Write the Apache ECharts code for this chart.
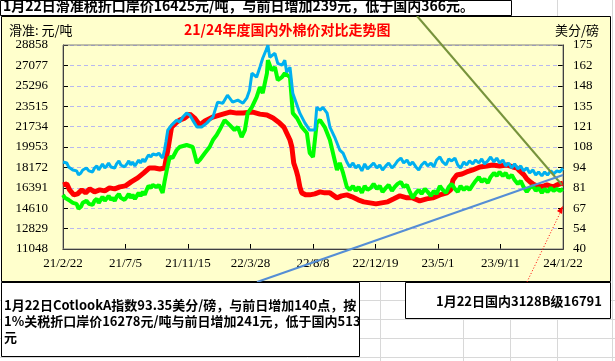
<!DOCTYPE html>
<html><head><meta charset="utf-8">
<script src="https://cdn.jsdelivr.net/npm/echarts@6/dist/echarts.min.js"></script>
<style>html,body{margin:0;padding:0;background:#fff}#c{width:615px;height:361px}</style>
</head><body><div id="c"></div>
<script>
const xLabels = ['21/2/22','21/7/5','21/11/15','22/3/28','22/8/8','22/12/19','23/5/1','23/9/11','24/1/22'];
const leftMin = 11048, leftStep = 1781, rightMin = 40, rightStep = 13.5;

// 国内3128B (元/吨), days since 2021-02-22
const redDays = [0,8,14,23,31,40,48,57,67,78,89,99,110,121,133,145,159,172,184,195,206,216,223,231,240,248,259,270,280,291,302,319,333,355,370,383,404,419,434,447,461,470,476,483,487,491,496,500,504,508,517,525,536,547,557,568,583,593,604,615,628,640,653,666,678,691,704,717,732,744,759,774,787,802,817,825,830,838,849,859,872,887,902,914,929,944,957,966,972,981,987,994,1000,1009,1015,1024,1030,1036,1043,1051,1058,1064];
const redValues = [16645,16732,16209,15774,15861,16209,15948,16296,16035,16209,16122,16383,16296,16470,16557,16906,17254,17689,18124,18124,18037,18124,19691,21694,22042,22303,22477,22825,22477,21868,22216,22564,22738,23000,22912,22912,23000,22825,22738,22477,22042,21694,21171,20562,19952,18559,17950,17341,16470,15948,15774,15774,15861,16035,15948,15948,15513,15687,15774,15600,15338,15164,15077,14990,15077,15164,15425,15687,15513,15513,15251,15425,15513,15774,15948,16209,17079,17515,17602,17776,17950,18211,18298,18385,18298,18385,18211,18124,17863,17515,17167,16906,16732,16557,16470,16557,16644,16557,16470,16644,16732,16791];

// 进口棉折口岸价 (元/吨)
const greenDays = [0,4,8,12,16,21,25,29,33,38,42,46,50,55,59,63,67,72,76,80,84,89,93,97,102,106,110,114,119,123,127,131,136,140,144,148,153,157,161,165,170,174,178,182,187,191,195,199,204,208,212,216,221,
  227,233,242,248,263,276,285,291,302,312,319,327,333,344,355,365,372,380,387,393,402,412,419,425,434,436,444,451,457,466,472,483,489,498,508,519,525,532,540,547,557,568,578,583,589,596,604,
  610,617,623,629,636,642,648,655,661,668,674,680,687,693,700,706,712,719,725,732,738,744,751,757,763,770,776,783,789,795,802,808,815,821,827,834,840,846,853,859,865,872,878,885,891,897,904,910,917,923,929,936,942,948,955,961,968,974,980,987,993,1000,1006,1012,1019,1025,1031,1038,1044,1051,1057,1064];
const greenValues = [15774,15513,15600,15338,15425,15077,14903,14990,14555,14729,15077,14903,15251,14990,15164,14903,15251,15425,15077,15338,15600,15251,15425,15687,15338,15513,15251,15600,15861,15513,15687,15338,15600,15861,15513,15774,15425,15687,15948,15687,16035,15774,16209,16557,16383,16644,16732,16470,16644,16296,15948,16906,17950,
  19082,18995,19691,19952,20126,19952,18559,18821,19430,19952,20562,20997,21432,22303,21868,21432,21694,20823,21432,22912,23435,24305,25176,24653,26394,27526,26656,26917,25785,26046,26394,26046,22912,22477,21694,21171,19430,19082,22042,22303,21694,20562,18821,17950,18559,17689,16470,
  16209,16557,16122,16470,15948,16557,16209,16383,16732,16296,16557,16035,16383,16644,16122,16470,16732,16906,16470,16644,16035,15513,15948,16209,15861,16296,16035,15687,16122,15861,16557,16209,15948,16470,16732,16296,16035,16557,16209,16470,16209,16644,16992,17341,16906,17167,16819,17341,17689,17428,17776,17428,17689,17254,17515,17079,16732,16992,16470,16035,16383,16557,16122,16383,15948,16296,16035,16383,16122,16296,16122,16278];

// CotlookA指数 (美分/磅)
const blueDays = [0,4,8,12,16,21,25,29,33,38,42,46,50,55,59,63,67,72,76,80,84,89,93,97,102,106,110,114,119,123,127,131,136,140,144,148,153,157,161,165,170,174,178,182,187,191,195,199,204,208,212,216,
  219,223,231,242,248,255,263,270,276,285,295,306,312,319,329,340,350,361,372,383,391,397,402,412,419,425,432,436,440,451,457,466,472,476,483,489,498,504,515,525,536,540,547,553,562,568,578,589,596,604,
  610,617,623,629,636,642,648,655,661,668,674,680,687,693,700,706,712,719,725,732,738,744,751,757,763,770,776,783,789,795,802,808,815,821,827,834,840,846,853,859,865,872,878,885,891,897,904,910,917,923,929,936,942,948,955,961,968,974,980,987,993,1000,1006,1012,1019,1025,1031,1038,1044,1051,1057,1064];
const blueValues = [97.6,96.3,96.9,94.3,95.0,92.3,91.0,91.7,89.0,90.3,92.3,91.0,93.6,91.7,93.0,91.0,93.6,95.0,92.3,94.3,96.3,93.6,95.0,96.9,94.3,95.6,93.6,96.3,98.3,95.6,96.9,94.3,96.3,98.3,95.6,97.6,95.0,96.9,98.9,96.9,99.6,97.6,100.2,102.2,100.9,102.9,104.2,102.2,103.5,101.6,100.2,105.5,
  110.8,118.7,122.0,125.3,124.0,127.3,129.9,128.6,125.3,120.7,120.7,123.3,125.3,127.3,137.2,136.5,141.8,137.2,138.5,136.5,139.8,145.1,156.3,153.7,160.3,166.2,171.5,174.8,166.9,169.5,162.9,161.6,164.9,157.0,160.3,143.1,135.2,129.9,123.3,118.7,118.7,133.8,131.9,133.8,129.9,120.7,114.1,105.5,103.5,97.6,
  94.3,96.9,93.6,95.6,91.7,96.3,93.0,95.0,96.9,93.6,95.6,92.3,95.0,96.9,93.6,95.6,98.3,100.2,96.9,98.9,95.6,97.6,94.3,92.3,95.6,97.6,95.0,96.9,94.3,98.9,100.9,97.6,95.6,99.6,98.3,100.2,95.6,93.6,97.6,95.6,98.3,96.3,98.9,96.9,99.6,96.3,98.3,100.9,97.6,100.2,96.9,98.9,95.0,96.9,93.6,96.3,93.0,95.0,91.7,93.6,90.3,92.3,89.0,91.0,88.4,91.0,89.0,91.7,89.7,91.7,91.0,93.35];

const dataOf = (d, v) => d.map((x, i) => [x, v[i]]);

const chart = echarts.init(document.getElementById('c'), null, {renderer: 'canvas'});
const cjk = '"Noto Sans CJK SC", sans-serif';
const serif = 'Liberation Serif';

// spreadsheet grid (beneath the chart area)
const gridColor = '#D8D8D8';
const colXs = [380, 463, 510, 557, 612];
const rowYs = [300, 319, 338, 357];
const bg = [];
rowYs.forEach(y => bg.push({type:'line', shape:{x1:0,y1:y+0.5,x2:615,y2:y+0.5}, style:{stroke:gridColor, lineWidth:1}, silent:true, z:-20}));
colXs.forEach(x => bg.push({type:'line', shape:{x1:x+0.5,y1:0,x2:x+0.5,y2:361}, style:{stroke:gridColor, lineWidth:1}, silent:true, z:-20}));

chart.setOption({
  animation: false,
  backgroundColor: 'transparent',
  grid: {left: 63, top: 45, width: 500, height: 204, show: true, borderColor: '#808080', borderWidth: 1, backgroundColor: 'transparent', z: 3},
  xAxis: {
    type: 'value', min: 0, max: (xLabels.length - 1) * 133, interval: 133,
    axisLine: {show: true, onZero: false, lineStyle: {color: '#000', width: 1}},
    axisTick: {show: true, inside: true, length: 5, lineStyle: {color: '#000'}},
    splitLine: {show: false},
    axisLabel: {color: '#000', fontFamily: serif, fontSize: 13, margin: 8, formatter: v => xLabels[Math.round(v / 133)] || ''}
  },
  yAxis: [
    {type: 'value', min: leftMin, max: leftMin + 10 * leftStep, interval: leftStep, position: 'left',
     axisLine: {show: true, lineStyle: {color: '#000'}},
     axisTick: {show: true, inside: true, length: 5, lineStyle: {color: '#000'}},
     splitLine: {show: true, lineStyle: {color: '#B8B8F0', type: [4, 3], width: 1}},
     axisLabel: {color: '#000', fontFamily: serif, fontSize: 13, margin: 15, formatter: v => String(Math.round(v))}},
    {type: 'value', min: rightMin, max: rightMin + 10 * rightStep, interval: rightStep, position: 'right',
     axisLine: {show: true, lineStyle: {color: '#000'}},
     axisTick: {show: true, inside: true, length: 5, lineStyle: {color: '#000'}},
     splitLine: {show: false},
     axisLabel: {color: '#000', fontFamily: serif, fontSize: 13, margin: 10, formatter: v => String(Math.round(v))}}
  ],
  series: [
    {name: '国内3128B', type: 'line', yAxisIndex: 0, data: dataOf(redDays, redValues), showSymbol: false, lineStyle: {color: '#FF0000', width: 5}, z: 4},
    {name: '进口折价', type: 'line', yAxisIndex: 0, data: dataOf(greenDays, greenValues), showSymbol: false, lineStyle: {color: '#00FF00', width: 4}, z: 5},
    {name: 'CotlookA', type: 'line', yAxisIndex: 1, data: dataOf(blueDays, blueValues), showSymbol: false, lineStyle: {color: '#00B0F0', width: 3}, z: 6}
  ],
  graphic: bg.concat([
    {type: 'rect', shape: {x: 1.5, y: 16.5, width: 609, height: 265}, style: {fill: '#FFFFCC', stroke: '#000', lineWidth: 1}, z: -10, silent: true},
    {type: 'text', left: 9, top: 24, style: {text: '滑准: 元/吨', font: '13px ' + cjk, fill: '#000'}, z: 10},
    {type: 'text', left: 184, top: 23, style: {text: '21/24年度国内外棉价对比走势图', font: 'bold 14px ' + cjk, fill: '#FF0000'}, z: 10},
    {type: 'text', left: 555, top: 24, style: {text: '美分/磅', font: '13px ' + cjk, fill: '#000'}, z: 10},
    {type: 'rect', shape: {x: 0.5, y: 0.5, width: 511, height: 15}, style: {fill: '#fff', stroke: '#000', lineWidth: 1}, z: 20},
    {type: 'text', left: 3, top: -1, style: {text: '1月22日滑准税折口岸价16425元/吨，与前日增加239元，低于国内366元。', font: 'bold 14px ' + cjk, fill: '#000'}, z: 21},
    {type: 'rect', shape: {x: 1.5, y: 282.5, width: 358, height: 74}, style: {fill: '#fff', stroke: '#000', lineWidth: 1}, z: 20},
    {type: 'text', left: 4, top: 297, style: {text: '1月22日CotlookA指数93.35美分/磅，与前日增加140点，按\n1%关税折口岸价16278元/吨与前日增加241元，低于国内513\n元', font: 'bold 13px ' + cjk, fill: '#000', lineHeight: 16}, z: 21},
    {type: 'rect', shape: {x: 405.5, y: 282.5, width: 205, height: 36}, style: {fill: '#fff', stroke: '#000', lineWidth: 1}, z: 20},
    {type: 'text', left: 436, top: 295, style: {text: '1月22日国内3128B级16791', font: 'bold 13px ' + cjk, fill: '#000'}, z: 21},
    {type: 'line', shape: {x1: 417, y1: 16, x2: 562, y2: 185}, style: {stroke: '#77933C', lineWidth: 2}, z: 15},
    {type: 'line', shape: {x1: 257, y1: 282, x2: 563, y2: 175}, style: {stroke: '#558ED5', lineWidth: 2}, z: 15},
    {type: 'line', shape: {x1: 527, y1: 282, x2: 561, y2: 211}, style: {stroke: '#FF0000', lineWidth: 1, lineDash: [1, 2]}, z: 15},
    {type: 'polygon', shape: {points: [[563, 206], [557, 211], [562, 214]]}, style: {fill: '#FF0000'}, z: 15}
  ])
});
</script></body></html>
